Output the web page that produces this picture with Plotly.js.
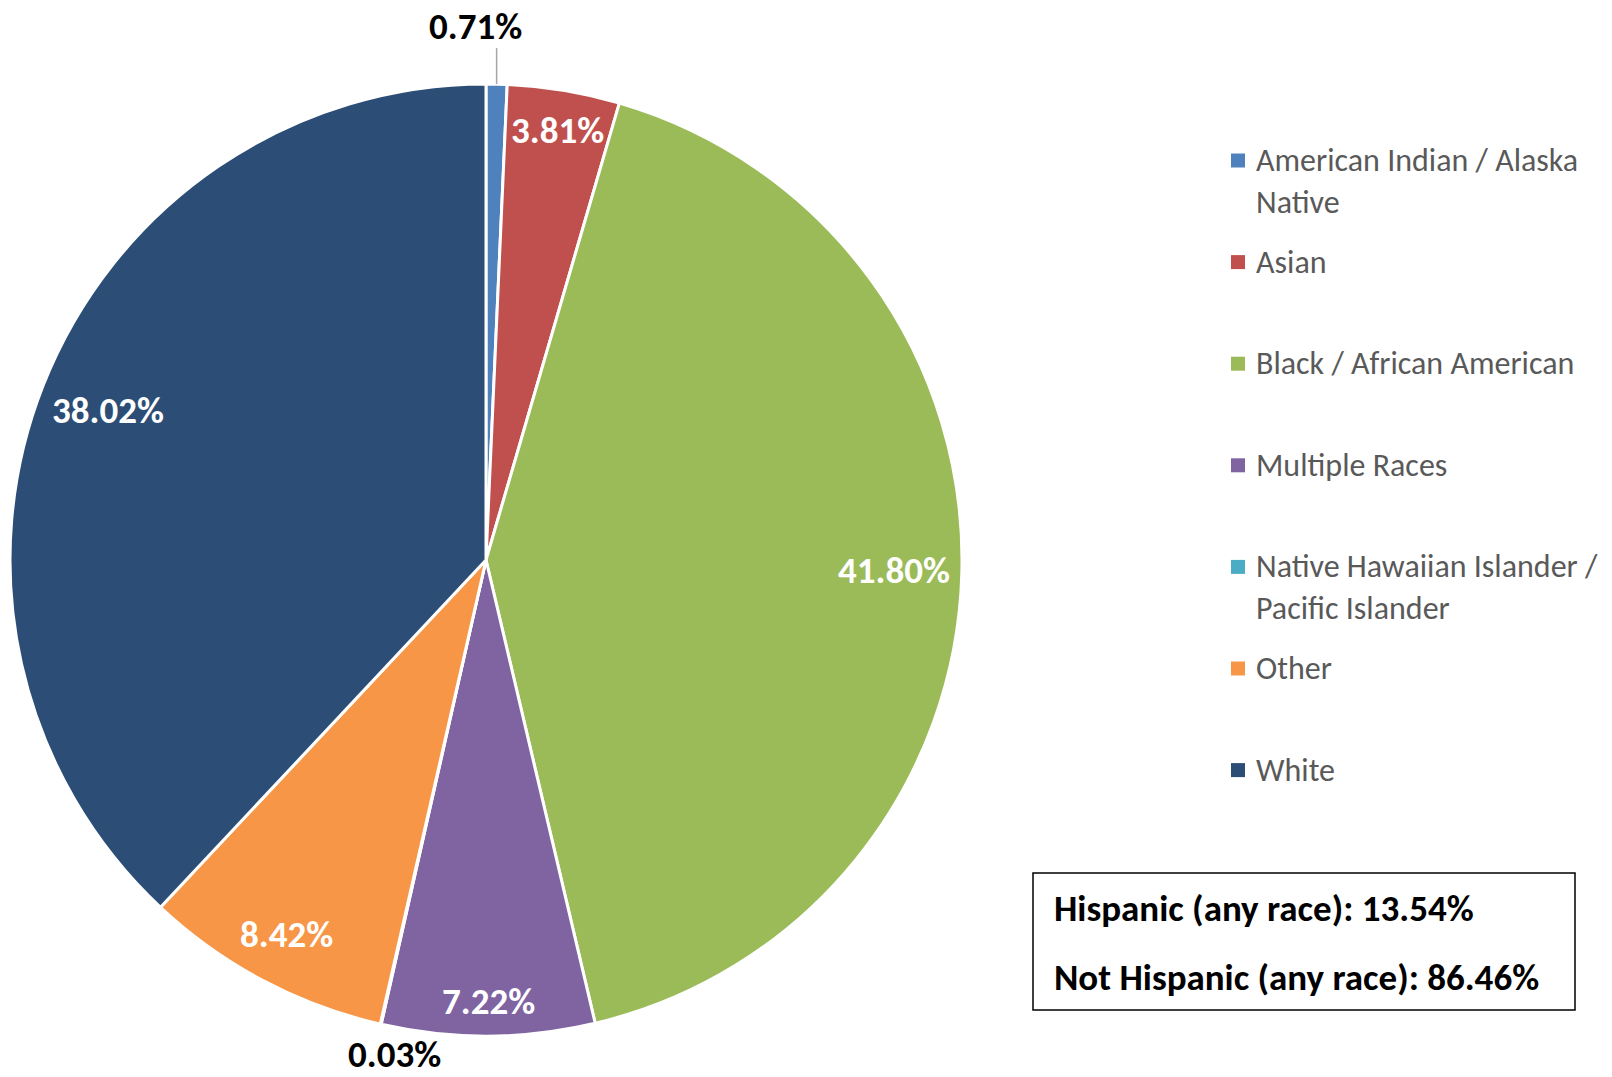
<!DOCTYPE html>
<html>
<head>
<meta charset="utf-8">
<script src="https://cdn.plot.ly/plotly-3.0.1.min.js"></script>
<style>
  html, body { margin: 0; padding: 0; background: #ffffff; }
  #chart { width: 1612px; height: 1077px; }
</style>
</head>
<body>
<div id="chart"></div>
<script>
// ---------------- data ----------------
const categories = [
  'American Indian / Alaska Native',
  'Asian',
  'Black / African American',
  'Multiple Races',
  'Native Hawaiian Islander / Pacific Islander',
  'Other',
  'White'
];
const legendLabels = [
  'American Indian / Alaska<br>Native',
  'Asian',
  'Black / African American',
  'Multiple Races',
  'Native Hawaiian Islander /<br>Pacific Islander',
  'Other',
  'White'
];
const shares = [0.71, 3.81, 41.80, 7.22, 0.03, 8.42, 38.02];
const sliceColors = ['#4F81BD', '#C0504D', '#9BBB59', '#8064A2', '#4BACC6', '#F79646', '#2C4D75'];
const labelPlacement = ['outside-leader', 'inside', 'inside', 'inside', 'outside', 'inside', 'inside'];
const summaryLabels = ['Hispanic (any race)', 'Not Hispanic (any race)'];
const summaryValues = [13.54, 86.46];

// ---------------- layout constants ----------------
const W = 1612, H = 1077;
const FONT = 'Carlito, Lato, "Liberation Sans", sans-serif';
const CX = 486, CY = 560, R = 476;
const px = x => x / W;
const py = y => 1 - y / H;

const labelSize = 37;
const legendSize = 32;
const boxSize = 37;

const pieTrace = {
  type: 'pie',
  labels: categories,
  values: shares,
  sort: false,
  direction: 'clockwise',
  rotation: 0,
  textinfo: 'none',
  hoverinfo: 'label+percent',
  marker: { colors: sliceColors, line: { color: '#ffffff', width: 3 } },
  domain: { x: [px(CX - R), px(CX + R)], y: [py(CY + R), py(CY - R)] },
  showlegend: false
};

const annotations = [];
const shapes = [];

// approximate rendered width of a bold percentage label
function labelWidth(txt, fs) {
  let w = 0;
  for (const ch of txt) {
    if (ch === '.') w += 0.267;
    else if (ch === '%') w += 0.729;
    else w += 0.507;
  }
  return w * fs;
}

// slice value labels, positioned from the data angles
const total = shares.reduce((a, b) => a + b, 0);
let cum = 0;
shares.forEach((v, i) => {
  const theta = 2 * Math.PI * (cum + v / 2) / total;
  cum += v;
  const txt = v.toFixed(2) + '%';
  const w = labelWidth(txt, labelSize);
  const h = 36;
  const s = Math.sin(theta), c = Math.cos(theta);
  const place = labelPlacement[i];
  let x, y, color = '#ffffff';
  if (place === 'inside') {
    const ext = Math.abs(s) * (w / 2 - 5) + Math.abs(c) * h / 2;
    const r = R - 16 - ext;
    x = CX + r * s; y = CY - r * c;
  } else if (place === 'outside') {
    const ext = Math.abs(s) * w / 2 + Math.abs(c) * h / 2;
    const r = R + 2 + ext;
    x = CX + r * s + 20; y = CY - r * c + 1;
    color = '#000000';
  } else {
    // leader line straight up from the slice edge
    const ex = CX + R * s, ey = CY - R * c;
    const ly = ey - 36;
    shapes.push({ type: 'line', xref: 'paper', yref: 'paper',
      x0: px(ex), y0: py(ey), x1: px(ex), y1: py(ly),
      line: { color: '#A6A6A6', width: 1.5 } });
    x = ex - 21; y = ly - 22;
    color = '#000000';
  }
  annotations.push({
    xref: 'paper', yref: 'paper', x: px(x), y: py(y),
    xanchor: 'center', yanchor: 'middle', showarrow: false,
    borderpad: 0,
    text: '<b>' + txt + '</b>',
    font: { family: FONT, size: labelSize, color: color }
  });
});

// legend drawn to the right
const legTop = 160.5, legStep = 101.6, legMarkX = 1231, legMark = 14, legTextX = 1254;
legendLabels.forEach((lab, i) => {
  const yc = legTop + i * legStep;
  shapes.push({ type: 'rect', xref: 'paper', yref: 'paper',
    x0: px(legMarkX), x1: px(legMarkX + legMark),
    y0: py(yc + legMark / 2), y1: py(yc - legMark / 2),
    fillcolor: sliceColors[i], line: { width: 0 } });
  const nLines = lab.split('<br>').length;
  const lineH = 1.3 * legendSize;
  annotations.push({
    xref: 'paper', yref: 'paper', x: px(legTextX), y: py(yc + (nLines - 1) * lineH / 2),
    xanchor: 'left', yanchor: 'middle', align: 'left', showarrow: false,
    text: lab, font: { family: FONT, size: legendSize, color: '#595959' }
  });
});

// summary box
const box = { x0: 1033, x1: 1575, y0: 873, y1: 1010 };
shapes.push({ type: 'rect', xref: 'paper', yref: 'paper',
  x0: px(box.x0), x1: px(box.x1), y0: py(box.y1), y1: py(box.y0),
  fillcolor: 'rgba(0,0,0,0)', line: { color: '#000000', width: 1.5 } });
const boxLineY = [908, 977];
summaryLabels.forEach((lab, i) => {
  annotations.push({
    xref: 'paper', yref: 'paper', x: px(1052), y: py(boxLineY[i]),
    xanchor: 'left', yanchor: 'middle', showarrow: false,
    text: '<b>' + lab + ': ' + summaryValues[i].toFixed(2) + '%</b>',
    font: { family: FONT, size: boxSize, color: '#000000' }
  });
});

const layout = {
  width: W, height: H,
  margin: { l: 0, r: 0, t: 0, b: 0, pad: 0 },
  paper_bgcolor: '#ffffff', plot_bgcolor: '#ffffff',
  showlegend: false,
  font: { family: FONT },
  annotations: annotations,
  shapes: shapes
};

Plotly.newPlot('chart', [pieTrace], layout, { displayModeBar: false, staticPlot: true });
</script>
</body>
</html>
